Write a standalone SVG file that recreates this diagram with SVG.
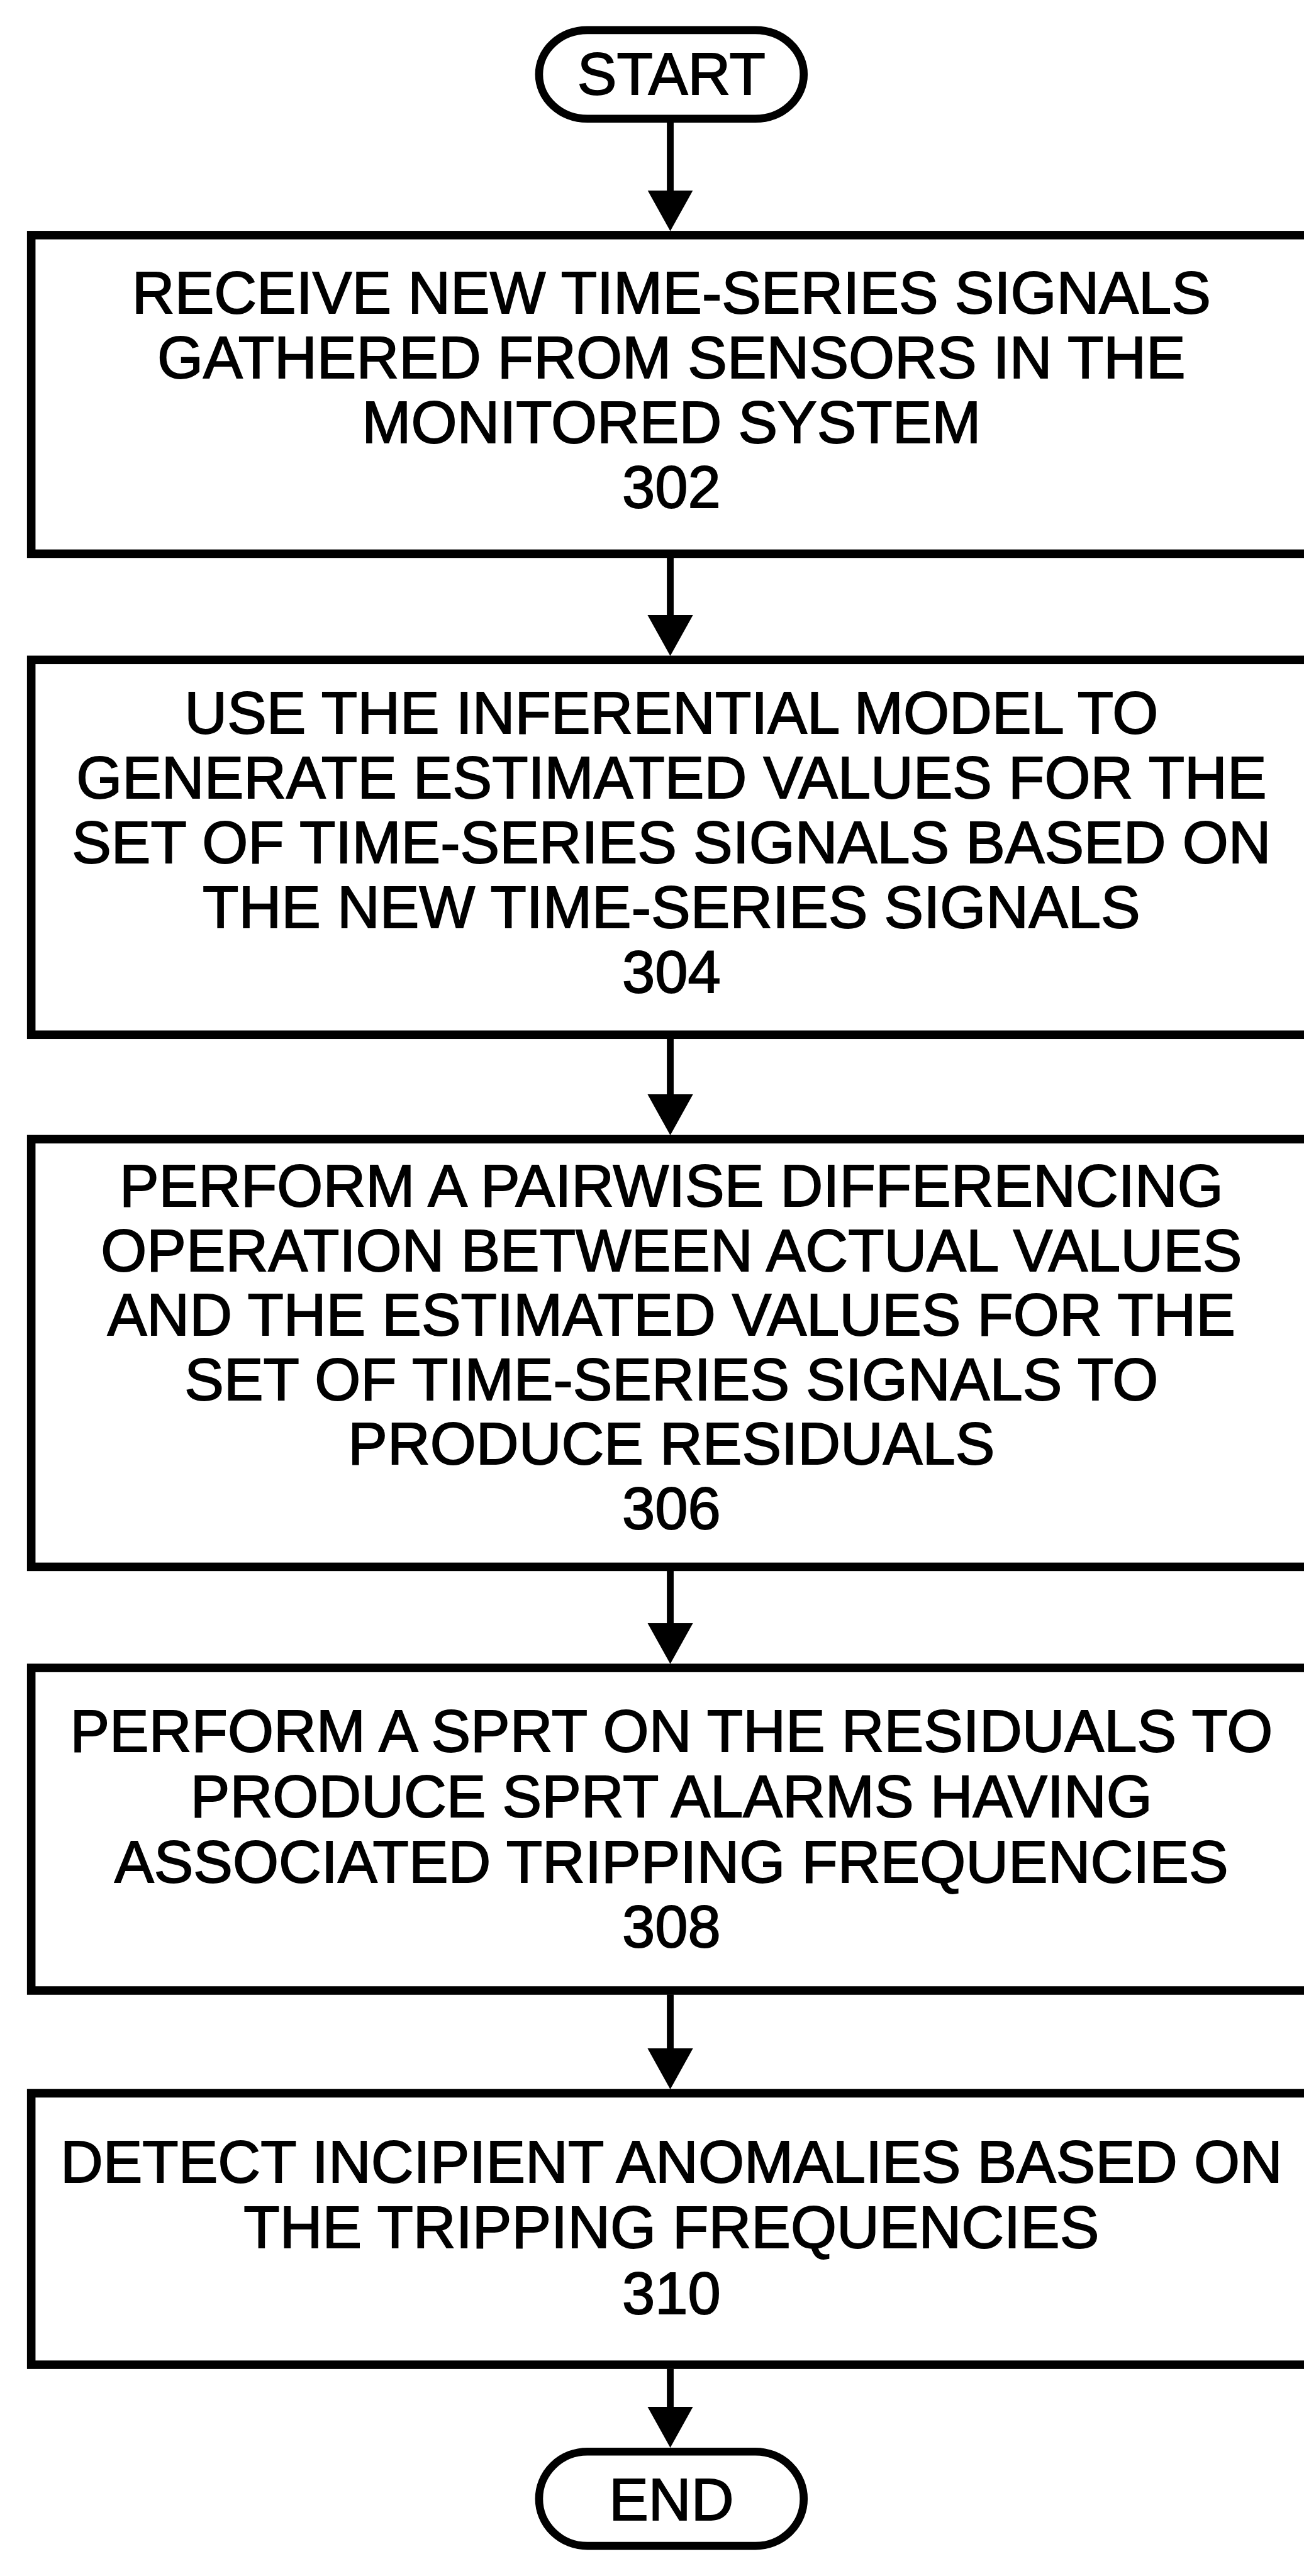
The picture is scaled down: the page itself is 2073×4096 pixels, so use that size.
<svg xmlns="http://www.w3.org/2000/svg" width="2073" height="4096" viewBox="0 0 2073 4096">
<style>
.box{fill:#fff;stroke:#000;stroke-width:15}
.term{fill:#fff;stroke:#000;stroke-width:14}
.t{font-family:"Liberation Sans",Arial,Helvetica,sans-serif;font-size:104px;fill:#000;stroke:#000;stroke-width:2;text-anchor:middle}
.conn{stroke:#000;stroke-width:12;fill:none;marker-end:url(#ah)}
</style>
<defs>
<marker id="ah" markerUnits="userSpaceOnUse" viewBox="0 0 72 80" refX="32" refY="40" markerWidth="72" markerHeight="80" orient="auto">
<polygon points="0,0 72,40 0,80" fill="#000"/>
</marker>
</defs>
<rect width="2073" height="4096" fill="#fff"/>
<g transform="scale(0.903)">
<g id="start">
<rect class="term" x="949" y="53" width="466" height="156" rx="85" ry="78"/>
<text class="t" x="1182" y="166">START</text>
</g>
<g id="n302">
<rect class="box" x="55" y="414" width="2400" height="561"/>
<text class="t" x="1182" y="552">RECEIVE NEW TIME-SERIES SIGNALS</text>
<text class="t" x="1182" y="666">GATHERED FROM SENSORS IN THE</text>
<text class="t" x="1182" y="780">MONITORED SYSTEM</text>
<text class="t" x="1182" y="894">302</text>
</g>
<g id="n304">
<rect class="box" x="55" y="1162" width="2400" height="660"/>
<text class="t" x="1182" y="1291">USE THE INFERENTIAL MODEL TO</text>
<text class="t" x="1182" y="1405">GENERATE ESTIMATED VALUES FOR THE</text>
<text class="t" x="1182" y="1519">SET OF TIME-SERIES SIGNALS BASED ON</text>
<text class="t" x="1182" y="1633">THE NEW TIME-SERIES SIGNALS</text>
<text class="t" x="1182" y="1747">304</text>
</g>
<g id="n306">
<rect class="box" x="55" y="2006" width="2400" height="753"/>
<text class="t" x="1182" y="2124">PERFORM A PAIRWISE DIFFERENCING</text>
<text class="t" x="1182" y="2238">OPERATION BETWEEN ACTUAL VALUES</text>
<text class="t" x="1182" y="2351">AND THE ESTIMATED VALUES FOR THE</text>
<text class="t" x="1182" y="2465">SET OF TIME-SERIES SIGNALS TO</text>
<text class="t" x="1182" y="2578">PRODUCE RESIDUALS</text>
<text class="t" x="1182" y="2692">306</text>
</g>
<g id="n308">
<rect class="box" x="55" y="2937" width="2400" height="568"/>
<text class="t" x="1182" y="3084">PERFORM A SPRT ON THE RESIDUALS TO</text>
<text class="t" x="1182" y="3199">PRODUCE SPRT ALARMS HAVING</text>
<text class="t" x="1182" y="3314">ASSOCIATED TRIPPING FREQUENCIES</text>
<text class="t" x="1182" y="3429">308</text>
</g>
<g id="n310">
<rect class="box" x="55" y="3686" width="2400" height="478"/>
<text class="t" x="1182" y="3843">DETECT INCIPIENT ANOMALIES BASED ON</text>
<text class="t" x="1182" y="3958">THE TRIPPING FREQUENCIES</text>
<text class="t" x="1182" y="4074">310</text>
</g>
<g id="end">
<rect class="term" x="949" y="4317" width="466" height="166" rx="85" ry="83"/>
<text class="t" x="1182" y="4437">END</text>
</g>
<g id="connectors">
<line class="conn" x1="1180" y1="216" x2="1180" y2="367"/>
<line class="conn" x1="1180" y1="982" x2="1180" y2="1115"/>
<line class="conn" x1="1180" y1="1829" x2="1180" y2="1959"/>
<line class="conn" x1="1180" y1="2766" x2="1180" y2="2890"/>
<line class="conn" x1="1180" y1="3512" x2="1180" y2="3639"/>
<line class="conn" x1="1180" y1="4171" x2="1180" y2="4270"/>
</g>
</g>
</svg>
